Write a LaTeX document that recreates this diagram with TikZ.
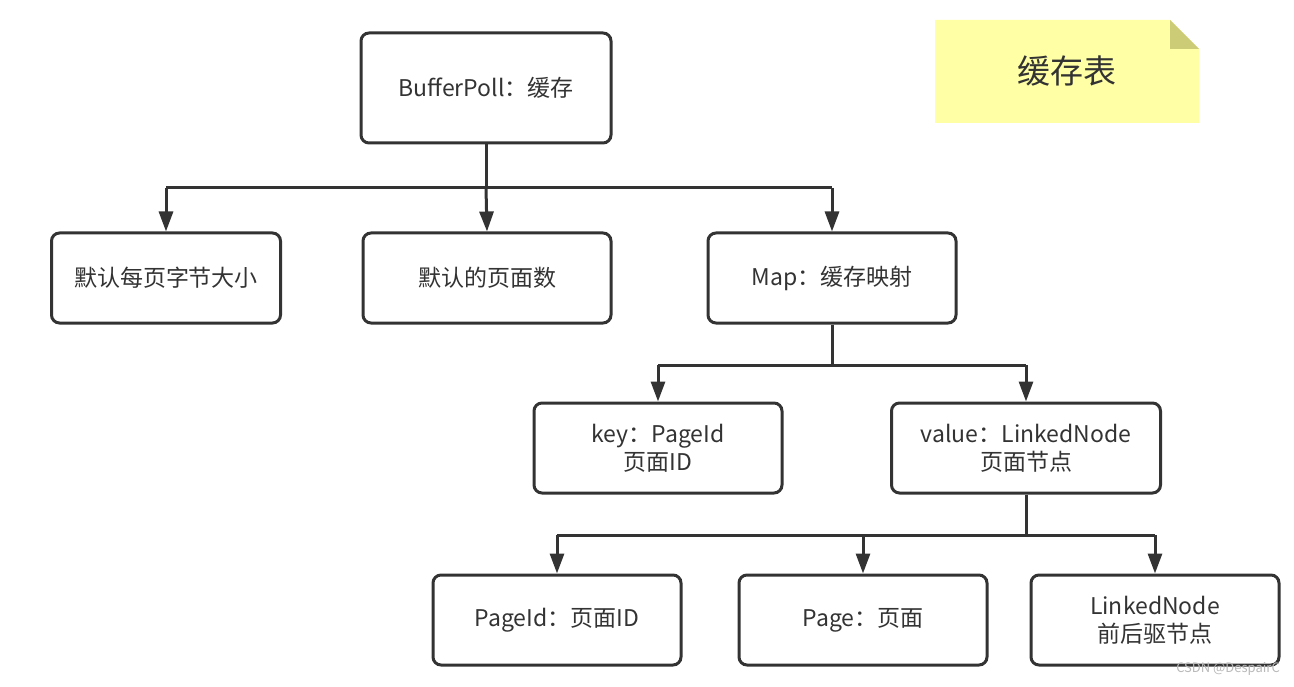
\documentclass[tikz,border=0pt]{standalone}
\usepackage{fontspec}
\setmainfont{Noto Sans CJK SC}
\usetikzlibrary{arrows.meta}
\definecolor{ink}{HTML}{333333}
\definecolor{notey}{HTML}{FFFFA5}
\definecolor{notef}{HTML}{CCCC77}
\tikzset{
  box/.style={draw=ink, line width=3pt, rounded corners=8pt, fill=white, minimum width=#1, minimum height=90pt, align=center, font=\fontsize{23pt}{28pt}\selectfont, text=ink, inner sep=0pt},
  box/.default=248pt,
  conn/.style={draw=ink, line width=3pt, -{Triangle[width=14pt,length=20pt]}},
  trunk/.style={draw=ink, line width=3pt},
}
\begin{document}
\begin{tikzpicture}[x=1pt,y=-1pt]
\useasboundingbox (0,0) rectangle (1294,687);
% note
\fill[notey] (935,20) -- (1170,20) -- (1199,49) -- (1199,123) -- (935,123) -- cycle;
\fill[notef] (1170,20) -- (1199,49) -- (1170,49) -- cycle;
\node[font=\fontsize{33pt}{40pt}\selectfont, text=ink] (note) at (1067,71) {缓存表};
% boxes
\node[box=250pt, minimum height=110pt] (bp) at (486,88) {BufferPoll：缓存};
\node[box=229pt] (a) at (166,278) {默认每页字节大小};
\node[box] (b) at (487,278) {默认的页面数};
\node[box] (m) at (832,278) {Map：缓存映射};
\node[box] (k) at (658,448) {key：PageId\\页面ID};
\node[box=269pt] (v) at (1026,448) {value：LinkedNode\\页面节点};
\node[box] (p1) at (557,620) {PageId：页面ID};
\node[box] (p2) at (863,620) {Page：页面};
\node[box] (p3) at (1155,620) {LinkedNode\\前后驱节点};
% connectors
\coordinate (j1) at (486,188);
\coordinate (j2) at (832,365);
\coordinate (j3) at (1026,535);
\draw[trunk] (bp.south) -- (j1);
\draw[trunk] (a.north |- j1) -- (m.north |- j1);
\draw[conn] (a.north |- j1) -- (a.north);
\draw[conn] (j1) -- (b.north);
\draw[conn] (m.north |- j1) -- (m.north);
\draw[trunk] (m.south) -- (j2);
\draw[trunk] (k.north |- j2) -- (v.north |- j2);
\draw[conn] (k.north |- j2) -- (k.north);
\draw[conn] (v.north |- j2) -- (v.north);
\draw[trunk] (v.south) -- (j3);
\draw[trunk] (p1.north |- j3) -- (p3.north |- j3);
\draw[conn] (p1.north |- j3) -- (p1.north);
\draw[conn] (p2.north |- j3) -- (p2.north);
\draw[conn] (p3.north |- j3) -- (p3.north);
% watermark
\node[font=\fontsize{13pt}{15pt}\selectfont, text=gray!55, anchor=east, inner sep=0pt] (wm) at (1280,669) {CSDN @DespairC};
\end{tikzpicture}
\end{document}
